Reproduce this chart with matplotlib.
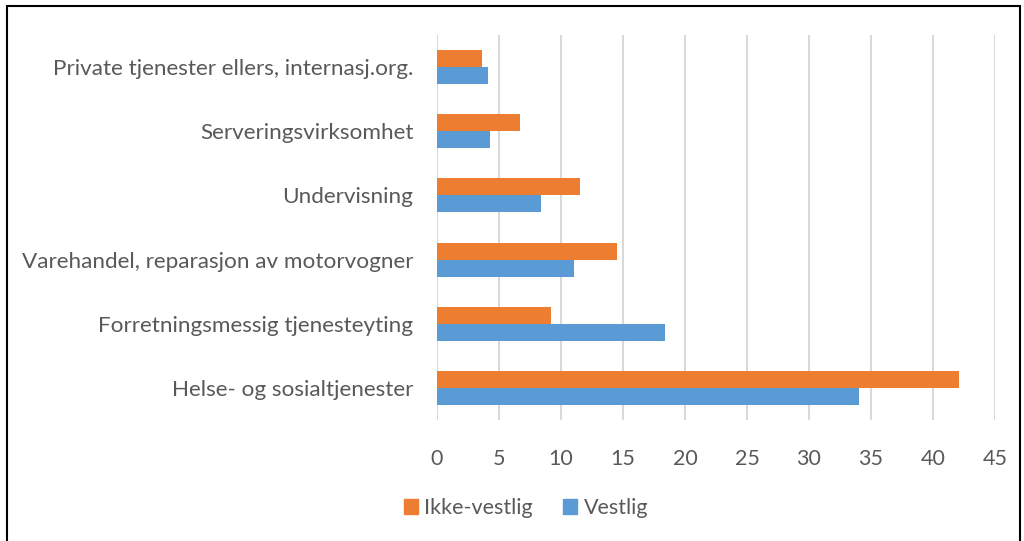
import matplotlib.pyplot as plt
from matplotlib.patches import Rectangle, Patch
import numpy as np

plt.rcParams['font.family'] = ['Lato', 'DejaVu Sans']

categories = [
    "Helse- og sosialtjenester",
    "Forretningsmessig tjenesteyting",
    "Varehandel, reparasjon av motorvogner",
    "Undervisning",
    "Serveringsvirksomhet",
    "Private tjenester ellers, internasj.org.",
]
ikke_vestlig = [42.1, 9.2, 14.5, 11.5, 6.7, 3.6]
vestlig = [34.0, 18.4, 11.05, 8.4, 4.3, 4.1]
xticks = [0, 5, 10, 15, 20, 25, 30, 35, 40, 45]

orange = "#ED7D31"
blue = "#5B9BD5"
text_col = "#595959"

fig = plt.figure(figsize=(10.24, 5.41), dpi=100)
ax = fig.add_axes([437 / 1024, 1 - 420 / 541, 558 / 1024, 385 / 541])

y = np.arange(len(categories))
h = 0.265
ax.barh(y + h / 2, ikke_vestlig, height=h, color=orange, label="Ikke-vestlig", zorder=3)
ax.barh(y - h / 2, vestlig, height=h, color=blue, label="Vestlig", zorder=3)

ax.set_xlim(0, 45)
ax.set_ylim(-0.5, len(categories) - 0.5)
ax.set_xticks(xticks)
ax.set_yticks(y)
ax.set_yticklabels(categories, fontsize=16.2)
ax.tick_params(axis='both', length=0, colors=text_col)
ax.tick_params(axis='x', labelsize=15.5, pad=21)
ax.tick_params(axis='y', pad=17)
ax.grid(axis='x', color="#d9d9d9", linewidth=1.5, zorder=0)
for s in ax.spines.values():
    s.set_visible(False)

handles = [Patch(color=orange, label="Ikke-vestlig"), Patch(color=blue, label="Vestlig")]
fig.legend(handles=handles, loc='center', bbox_to_anchor=(526 / 1024, 1 - 508 / 541),
           ncol=2, frameon=False, fontsize=15.5, labelcolor=text_col,
           handlelength=0.65, handleheight=0.65, handletextpad=0.3, columnspacing=1.4)

# outer frame
fig.patches.append(Rectangle((7 / 1024, -0.05), 1013 / 1024, 1 - 6 / 541 + 0.05,
                             transform=fig.transFigure, fill=False,
                             edgecolor="black", linewidth=1.5))

fig.savefig("out.png", dpi=100)
